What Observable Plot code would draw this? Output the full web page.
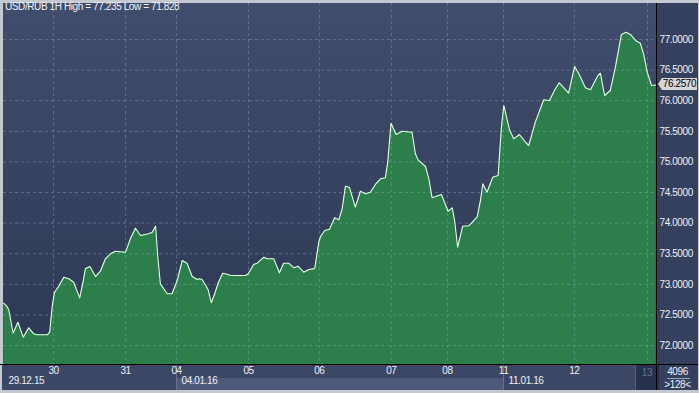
<!DOCTYPE html>
<html><head><meta charset="utf-8">
<script src="https://cdn.jsdelivr.net/npm/d3@7"></script>
<script src="https://cdn.jsdelivr.net/npm/@observablehq/plot@0.6"></script>
<style>
body{margin:0;background:#c4c8d0;}
#wrap{position:relative;width:699px;height:393px;overflow:hidden;background:#c4c8d0;font-family:"Liberation Sans",Arial,sans-serif;font-size:10px;letter-spacing:-0.4px;color:#eef1f6;}
.abs{position:absolute;}
#wrap svg text{letter-spacing:-0.4px;}
</style></head><body><div id="wrap"></div>
<script>
// hours since 29.12.15 session start (hourly bars), USD/RUB close
const hours = [0.1,1.2,1.8,3.2,4.8,6.6,8.4,10.1,11.2,14.6,15.4,16.2,17.0,18.4,20.1,21.8,23.4,25.4,26.6,27.3,28.8,30.7,32.3,34.0,35.7,37.3,40.7,42.3,44.0,45.7,48.4,49.6,50.7,51.4,52.3,54.6,56.2,57.9,59.6,61.2,62.9,64.6,
65.3,66.2,67.3,68.2,69.3,70.4,71.6,73.1,74.6,75.7,80.7,81.6,83.4,84.6,86.8,87.9,90.1,92.0,93.4,95.1,96.8,98.2,100.1,101.8,103.4,
103.8,105.1,105.7,107.1,108.7,110.4,111.8,112.9,114.0,115.3,117.3,119.0,120.7,122.3,124.0,125.7,127.3,128.1,129.2,130.9,132.9,136.2,137.3,
138.2,140.7,141.8,142.9,146.0,148.2,149.6,150.4,151.4,153.1,155.1,157.9,159.0,159.8,161.2,163.1,164.9,166.0,166.8,168.7,170.1,172.0,174.0,175.1,
177.3,180.1,182.0,184.0,185.3,188.4,190.4,191.8,194.0,195.7,198.2,199.0,
200.4,202.3,204.0,206.0,207.6,209.0,210.7,212.3,213.4,214.6,215.7,216.0,217.6];
const rates = [72.691,72.637,72.572,72.201,72.381,72.136,72.289,72.191,72.175,72.175,72.217,72.626,72.871,72.964,73.116,73.090,73.034,72.779,73.062,73.253,73.291,73.127,73.214,73.417,73.498,73.541,73.525,73.743,73.917,73.797,73.825,73.851,73.949,73.471,73.008,72.845,72.845,73.062,73.389,73.345,73.127,73.078,
73.090,73.078,72.992,72.915,72.698,72.845,73.025,73.181,73.165,73.144,73.144,73.172,73.324,73.345,73.443,73.417,73.417,73.188,73.345,73.345,73.270,73.296,73.198,73.242,73.253,
73.270,73.688,73.781,73.879,73.900,74.087,74.054,74.234,74.603,74.587,74.260,74.521,74.479,74.505,74.631,74.724,74.740,74.995,75.632,75.448,75.502,75.485,75.137,
75.034,74.925,74.724,74.413,74.467,74.194,74.250,74.042,73.606,73.949,73.956,74.096,74.369,74.642,74.505,74.750,74.778,75.567,75.922,75.525,75.377,75.448,75.322,75.268,
75.649,76.015,76.003,76.194,76.292,76.123,76.559,76.440,76.211,76.178,76.412,76.449,
76.085,76.167,76.547,77.082,77.119,77.082,76.984,76.940,76.766,76.466,76.302,76.248,76.257];
const dayHours = [16.7,40.7,57.7,81.7,105.3,129.3,148,166.7,190.3,214.7];
const dayLabels = ["30","31","04","05","06","07","08","11","12","13"];
const weekHours = [0,57.7,166.7];
const weekLabels = ["29.12.15","04.01.16","11.01.16"];
const yTicks = [72,72.5,73,73.5,74,74.5,75,75.5,76,76.5,77];
const title = "USD/RUB 1H High = 77.235 Low = 71.828";
const lastRate = 76.257;
const xDomain = [0,217.7];
const yDomain = [71.69,77.588];

const data = hours.map((h,i)=>({h, v:rates[i]}));
const weeks = weekHours.map((h,i)=>({h, label:weekLabels[i]}));
const days = dayHours.slice(0,-1).map((h,i)=>({h, label:dayLabels[i]}));
const wrap = document.getElementById("wrap");
function box(l,t,w,h,css){const d=document.createElement("div");d.className="abs";d.style.cssText=`left:${l}px;top:${t}px;width:${w}px;height:${h}px;`+(css||"");wrap.appendChild(d);return d;}

// panels
box(3,3,653,361,"background:linear-gradient(#404d6c,#2d3854);");
box(657,3,41,361,"background:#34405e;");
box(2,365,654,25,"background:#3b4765;");
box(657,365,41,25,"background:#34405e;");

// scales computed first (to place the bottom-panel boxes under the svg)
const chart = Plot.plot({
  width:699, height:393,
  marginLeft:3, marginRight:43, marginTop:3, marginBottom:29,
  style:{background:"transparent", overflow:"visible", fontFamily:"Liberation Sans, Arial, sans-serif", fontSize:"10px"},
  x:{domain:xDomain, axis:null},
  y:{domain:yDomain, axis:null},
  marks:[
    Plot.areaY(data,{x:"h", y1:yDomain[0], y2:"v", fill:"#2c7f4b", curve:"linear"}),
    Plot.ruleY(yTicks,{stroke:"#8ea2c4", strokeOpacity:0.45, strokeDasharray:"3,3"}),
    Plot.ruleX(dayHours,{stroke:"#8ea2c4", strokeOpacity:0.45, strokeDasharray:"3,3"}),
    Plot.lineY(data,{x:"h", y:"v", stroke:"#e4ffe4", strokeWidth:1.1}),
    Plot.text(yTicks,{y:d=>d, frameAnchor:"right", dx:3, textAnchor:"start", text:d=>d.toFixed(4), fill:"#eef1f6"}),
    Plot.text(days,{x:"h", frameAnchor:"bottom", dy:9, text:"label", fill:"#eef1f6"}),
    Plot.text(weeks,{x:"h", frameAnchor:"bottom", dy:19, dx:5, textAnchor:"start", text:"label", fill:"#eef1f6"})
  ]
});
const xs = chart.scale("x"), ys = chart.scale("y");

// lighter week box and separators in bottom panel
const wx0 = xs.apply(weekHours[1]), wx1 = xs.apply(weekHours[2]);
box(wx0,378,wx1-wx0,12,"background:#4c5978;");
box(wx0,365,1,25,"background:#66738f;");
box(wx1,365,1,25,"background:#66738f;");
// current day box
const cx = xs.apply(dayHours[dayHours.length-1]);
const d13 = box(cx-12,365,24,25,"background:#27314b;border-left:1px solid #56627e;box-sizing:border-box;");
d13.innerHTML = `<div class="abs" style="left:0;top:2px;width:22px;text-align:center;color:#66738f;">${dayLabels[dayLabels.length-1]}</div>`;

chart.style.position="absolute"; chart.style.left="0"; chart.style.top="0";
wrap.appendChild(chart);

// separator lines
box(0,364,699,1,"background:#000;");
box(656,3,1,387,"background:#000;");
box(0,390,699,3,"background:#c4c8d0;");
box(698,0,1,393,"background:#c4c8d0;");

// title
const tt = box(5,1,300,12,"white-space:nowrap;color:#f2f4f8;");
tt.textContent = title;

// 4096 / >128<
const r1 = box(657,366,41,11,"text-align:center;");
r1.textContent = "4096";
box(667,378,23,1,"background:#9aa3b8;");
const r2 = box(657,379,41,11,"text-align:center;");
r2.textContent = ">128<";

// last price marker
const py = ys.apply(lastRate);
box(658,py-6,0,0,"border-top:6px solid transparent;border-bottom:6px solid transparent;border-right:4px solid #d6d6d6;");
const pb = box(662,py-6,35,12,"background:#d6d6d6;color:#000;line-height:12px;text-align:center;");
pb.textContent = lastRate.toFixed(4);
</script></body></html>
